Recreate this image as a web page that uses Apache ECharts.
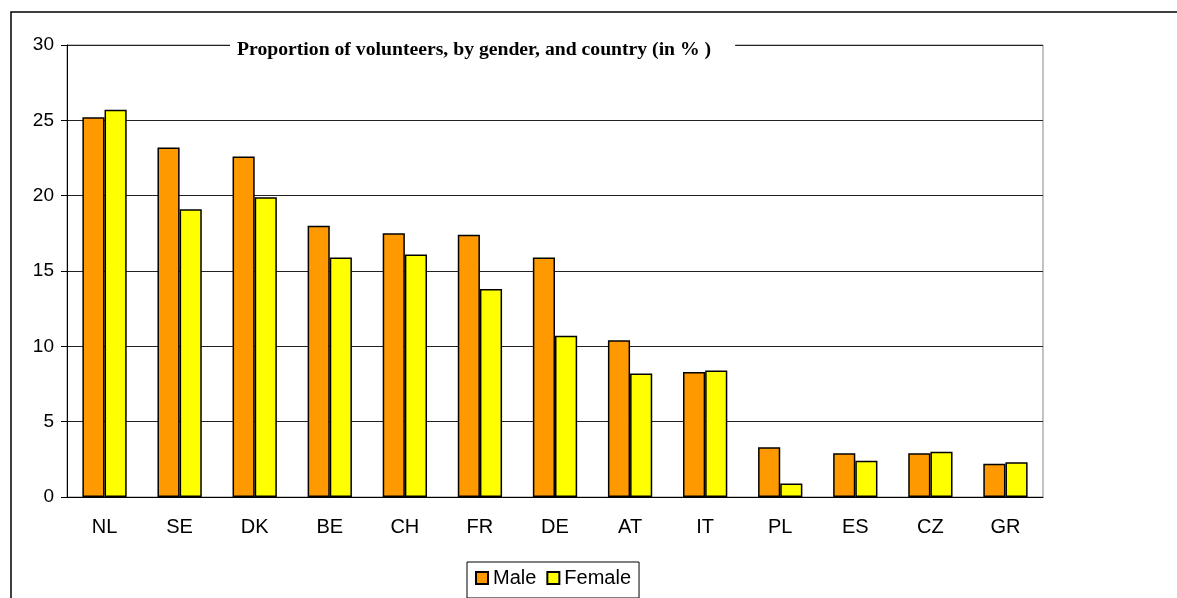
<!DOCTYPE html>
<html>
<head>
<meta charset="utf-8">
<title>Proportion of volunteers</title>
<script src="https://cdn.jsdelivr.net/npm/echarts@6/dist/echarts.min.js"></script>
<style>
  html, body { margin: 0; padding: 0; background: #fff; }
  #chart { width: 1177px; height: 598px; }
</style>
</head>
<body>
<div id="chart"></div>
<script>
  // countries (x axis)
  var countries = ['NL', 'SE', 'DK', 'BE', 'CH', 'FR', 'DE', 'AT', 'IT', 'PL', 'ES', 'CZ', 'GR'];
  // share of volunteers in %
  var maleValues = [25.2, 23.2, 22.6, 18.0, 17.5, 17.4, 15.9, 10.4, 8.3, 3.3, 2.9, 2.9, 2.2];
  var femaleValues = [25.7, 19.1, 19.9, 15.9, 16.1, 13.8, 10.7, 8.2, 8.4, 0.9, 2.4, 3.0, 2.3];
  var seriesNames = ['Male', 'Female'];
  var titleText = 'Proportion of volunteers, by gender, and country (in % )';

  var myChart = echarts.init(document.getElementById('chart'));
  myChart.setOption({
    animation: false,
    backgroundColor: '#fff',
    textStyle: { fontFamily: 'Liberation Sans, Arial, sans-serif' },
    // outer frame of the chart object
    graphic: [
      {
        type: 'rect',
        shape: { x: 11, y: 12, width: 1200, height: 640 },
        style: { fill: 'none', stroke: '#000', lineWidth: 1.5 },
        z: -1
      }
    ],
    title: {
      text: titleText,
      left: 230,
      top: 38,
      padding: [2, 24, 2, 7],
      backgroundColor: '#fff',
      textStyle: {
        fontFamily: 'Liberation Serif, Times New Roman, serif',
        fontWeight: 'bold',
        fontSize: 19.7,
        color: '#000'
      },
      z: 10
    },
    legend: {
      data: seriesNames,
      left: 467,
      top: 562,
      padding: [6, 8, 10, 8],
      borderColor: '#000',
      borderWidth: 1,
      icon: 'rect',
      itemWidth: 12,
      itemHeight: 12,
      itemGap: 10,
      textStyle: { fontSize: 20, color: '#000', fontFamily: 'Liberation Sans, Arial, sans-serif' }
    },
    grid: {
      left: 67,
      right: 134,
      top: 45,
      bottom: 101,
      show: true,
      borderColor: '#888',
      borderWidth: 1
    },
    xAxis: {
      type: 'category',
      data: countries,
      axisLine: { lineStyle: { color: '#000', width: 1 } },
      axisTick: { length: 5, lineStyle: { color: '#000' } },
      axisLabel: { fontSize: 20, color: '#000', margin: 20 }
    },
    yAxis: {
      type: 'value',
      min: 0,
      max: 30,
      interval: 5,
      axisLine: { show: true, lineStyle: { color: '#000', width: 1 } },
      axisTick: { show: true, length: 6, lineStyle: { color: '#000' } },
      axisLabel: { fontSize: 19, color: '#000', margin: 13 },
      splitLine: { lineStyle: { color: '#222', width: 1 } }
    },
    series: [
      {
        name: seriesNames[0],
        type: 'bar',
        data: maleValues,
        barGap: '0%',
        barCategoryGap: '41%',
        itemStyle: { color: '#FF9900', borderColor: '#000', borderWidth: 1.5 }
      },
      {
        name: seriesNames[1],
        type: 'bar',
        data: femaleValues,
        barGap: '0%',
        barCategoryGap: '41%',
        itemStyle: { color: '#FFFF00', borderColor: '#000', borderWidth: 1.5 }
      }
    ]
  });
</script>
</body>
</html>
